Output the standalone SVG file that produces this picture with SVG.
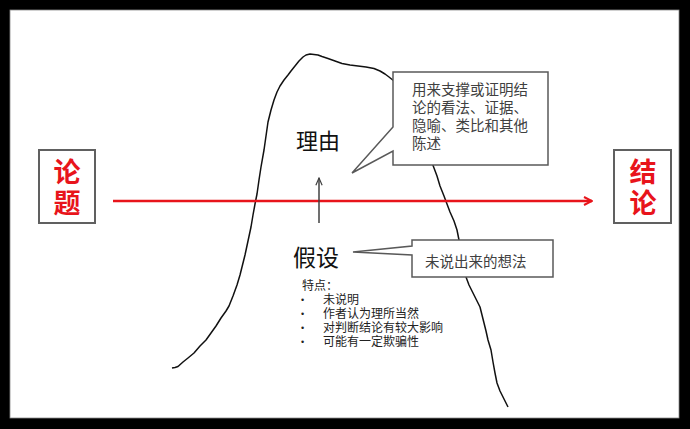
<svg xmlns="http://www.w3.org/2000/svg" width="690" height="429" viewBox="0 0 690 429">
<defs>
<style>
.cjk{font-family:"Liberation Sans","Noto Sans CJK SC",sans-serif}
.big{font-size:27px;font-weight:bold;fill:#e8141b;text-anchor:middle}
.lbl{font-size:22px;fill:#111;text-anchor:middle}
.note{font-size:14.5px;fill:#404040}
.list{font-size:12px;fill:#222}
.bul{font-size:9px;fill:#222}
.callout{fill:#fff;stroke:#595959;stroke-width:1.5}
.tbox{fill:#fff;stroke:#606060;stroke-width:2}
</style>
<marker id="redHead" viewBox="0 0 10 10" refX="9" refY="5" markerWidth="10" markerHeight="10" markerUnits="userSpaceOnUse" orient="auto">
<path d="M1,1 L9,5 L1,9" fill="none" stroke="#e8141b" stroke-width="2"/>
</marker>
<marker id="blkHead" viewBox="0 0 10 10" refX="9" refY="5" markerWidth="9" markerHeight="9" markerUnits="userSpaceOnUse" orient="auto">
<path d="M1,1.5 L9,5 L1,8.5" fill="none" stroke="#404040" stroke-width="1.3"/>
</marker>
</defs>
<rect x="0" y="0" width="690" height="429" fill="#000"/>
<rect x="10" y="10" width="669" height="408" fill="#fff" stroke="#8a8a8a" stroke-width="0.8"/>

<path id="mountain" fill="none" stroke="#111" stroke-width="1.5" stroke-linejoin="round" d="M172,368 L175,367.5 L178,366.5 L183,362 L188,358 L194,353 L200,346 L206,340 L211,333 L216,326 L221,318 L226,311 L229,306 L233,296 L237,285 L240,275 L242,267 L245,255 L248,241 L251,227 L253,215 L255,204 L257,194 L259,180 L261,167 L264,150 L266,136 L268,122 L271,110 L274,100 L277,92 L280,86 L284,80 L288,75 L291,71 L295,66 L299,61 L303,57 L306,55 L310,54 L314,54.5 L318,55 L322,56.5 L328,58.5 L335,61 L342,63.5 L350,65 L358,66 L366,67 L374,68.5 L380,71 L385,74 L389,77 L394,81 L398,86 L403,95 L410,110 L418,125 L425,142 L431,160 L434,168 L437,176 L440,186 L444,196 L447,204 L450,212 L454,221 L457,230 L460,245 L463,260 L466,277 L469,285 L472,291 L476,299 L480,307 L482,315 L484,323 L486,331 L488,340 L491,350 L493,362 L495,373 L497,383 L500,391 L504,399 L508,407"/>

<g id="connectors">
<line x1="113" y1="201" x2="592" y2="201" stroke="#e8141b" stroke-width="2.5" marker-end="url(#redHead)"/>
<line x1="319" y1="223" x2="319" y2="178" stroke="#404040" stroke-width="1.5" marker-end="url(#blkHead)"/>
</g>

<g id="node-lunti">
<rect class="tbox" x="39" y="150" width="56" height="73"/>
<text class="cjk big" x="67" y="182">论</text>
<text class="cjk big" x="67" y="213">题</text>
</g>

<g id="node-jielun">
<rect class="tbox" x="614" y="150" width="57" height="73"/>
<text class="cjk big" x="643" y="182">结</text>
<text class="cjk big" x="643" y="213">论</text>
</g>

<g id="node-liyou">
<text class="cjk lbl" x="318" y="149">理由</text>
</g>

<g id="node-jiashe">
<text class="cjk lbl" x="316" y="266" style="font-size:23px">假设</text>
</g>

<g id="callout-liyou">
<path class="callout" d="M393,72 H548 V165 H393 V151 L352,173 L393,127 Z"/>
<text class="cjk note" x="412" y="95">用来支撑或证明结</text>
<text class="cjk note" x="412" y="113">论的看法、证据、</text>
<text class="cjk note" x="412" y="131">隐喻、类比和其他</text>
<text class="cjk note" x="412" y="149">陈述</text>
</g>

<g id="callout-jiashe">
<path class="callout" d="M412,240 H553 V277 H412 V255 L353,252 L412,246 Z"/>
<text class="cjk note" x="425" y="267">未说出来的想法</text>
</g>

<g id="features">
<text class="cjk list" x="302" y="290">特点：</text>
<g class="cjk">
<text class="bul" x="301" y="303">•</text><text class="list" x="323" y="304">未说明</text>
<text class="bul" x="301" y="317">•</text><text class="list" x="323" y="318">作者认为理所当然</text>
<text class="bul" x="301" y="331">•</text><text class="list" x="323" y="332">对判断结论有较大影响</text>
<text class="bul" x="301" y="345">•</text><text class="list" x="323" y="346">可能有一定欺骗性</text>
</g>
</g>
</svg>
